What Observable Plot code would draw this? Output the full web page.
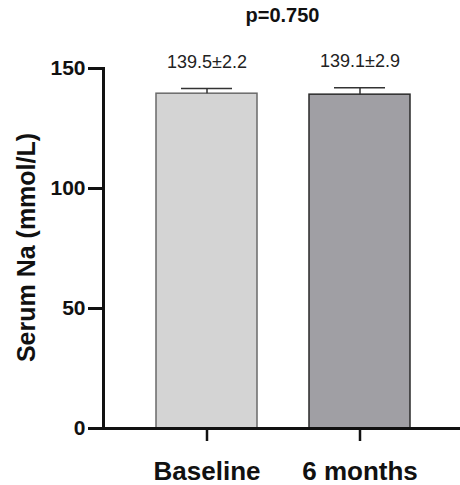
<!DOCTYPE html>
<html><head><meta charset="utf-8">
<script src="https://cdn.jsdelivr.net/npm/d3@7"></script>
<script src="https://cdn.jsdelivr.net/npm/@observablehq/plot@0.6"></script>
<style>body{margin:0;background:#fff;font-family:"Liberation Sans",Arial,sans-serif}</style>
</head><body><div id="chart"></div>
<script>
const groups = ["Baseline", "6 months"];
const means = [139.5, 139.1];
const sds = [2.2, 2.9];
const labels = ["139.5±2.2", "139.1±2.9"];
const fills = ["#d4d4d4", "#a09fa4"];
const strokes = ["#6a6a6a", "#2a2a2a"];
const pText = "p=0.750";
const yTicks = [0, 50, 100, 150];
const yLabel = "Serum Na (mmol/L)";

const data = groups.map((g, i) => ({g, m: means[i], sd: sds[i], top: means[i] + sds[i], label: labels[i], fill: fills[i], stroke: strokes[i]}));

const chart = Plot.plot({
  width: 460, height: 485,
  marginLeft: 103, marginRight: -3, marginTop: 68, marginBottom: 57,
  style: {fontFamily: "'Liberation Sans', Arial, sans-serif", background: "#fff", overflow: "hidden"},
  x: {domain: groups, padding: 0.34},
  y: {domain: [0, 150]},
  marks: [
    Plot.barY(data, {x: "g", y: "m", fill: "fill", stroke: "stroke", strokeWidth: 1.5}),
    Plot.ruleX(data, {x: "g", y1: "m", y2: "top", stroke: "#333", strokeWidth: 1.5}),
    Plot.tickY(data, {x: "g", y: "top", stroke: "#333", strokeWidth: 1.5, insetLeft: 25, insetRight: 25}),
    Plot.text(data, {x: "g", y: "top", text: "label", dy: -26, fontSize: 18, fill: "#222"}),
    Plot.text([pText], {frameAnchor: "top", lineAnchor: "middle", dy: -53, dx: -1, text: d => d, fontSize: 20, fontWeight: "bold", fill: "#111"}),
    Plot.text([yLabel], {frameAnchor: "left", textAnchor: "middle", lineAnchor: "middle", rotate: -90, dx: -77, dy: -1, text: d => d, fontSize: 25, fontWeight: "bold", fill: "#111"}),
    Plot.ruleY([0], {stroke: "#111", strokeWidth: 3}),
    Plot.frame({anchor: "left", stroke: "#111", strokeWidth: 3}),
    Plot.axisY({ticks: yTicks, tickSize: 15, tickPadding: 3, strokeWidth: 3, fontSize: 21, fontWeight: "bold", fill: "#111", stroke: "#111", label: null}),
    Plot.axisX({tickSize: 13, tickPadding: 20, strokeWidth: 2.5, fontSize: 26, fontWeight: "bold", fill: "#111", stroke: "#111", label: null})
  ]
});
document.getElementById("chart").appendChild(chart);
</script></body></html>
